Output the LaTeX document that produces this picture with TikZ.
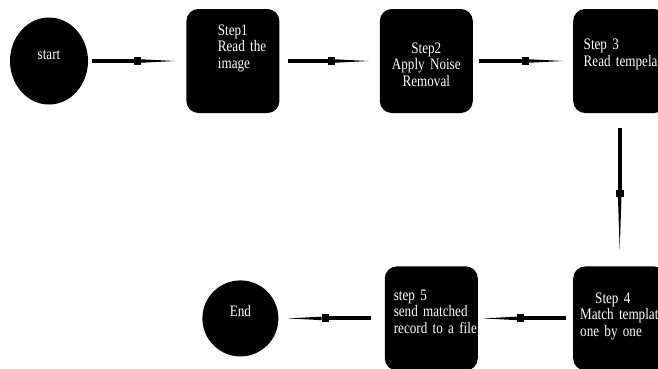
\documentclass[tikz,border=0pt]{standalone}
\usepackage{fontspec}
\setmainfont{Liberation Serif}
\newfontfamily\boxfont[FakeStretch=0.82]{Liberation Serif}
\usetikzlibrary{arrows.meta,positioning,calc,shapes.geometric}
\tikzset{
  terminal/.style={ellipse,fill=black,text=white,inner sep=0pt,
    font=\boxfont\fontsize{16pt}{16.5pt}\selectfont,text height=8pt,text depth=12pt},
  stepbox/.style={fill=black,rounded corners=12pt,minimum width=93pt,
    minimum height=104pt,inner sep=0pt},
  steptext/.style={text=white,inner sep=0pt,align=left,text width=90pt,
    font=\boxfont\fontsize{16pt}{16.5pt}\selectfont},
  link/.style={line width=4pt,
    -{Rectangle[length=7pt,width=8pt,line width=0pt]Triangle[length=#1,width=3.5pt,line width=0pt]}},
  link/.default=34pt
}

\begin{document}
\begin{tikzpicture}[x=1pt,y=-1pt]
  \useasboundingbox (0,0) rectangle (658,368);
  % top row
  \node[terminal,minimum width=78pt,minimum height=87pt] (start) at (49,61) {start};
  \node[stepbox,right=98pt of start] (s1) {};
  \node[stepbox,right=100pt of s1] (s2) {};
  \node[stepbox,right=100pt of s2] (s3) {};
  % bottom row, right to left
  \node[stepbox,below=153pt of s3] (s4) {};
  \node[stepbox,left=95pt of s4] (s5) {};
  \node[terminal,minimum width=76pt,minimum height=76pt,left=106pt of s5] (end) {End};
  % box texts
  \node[steptext,anchor=base west] (s1text) at ($(s1.north west)+(31.5,26.3)$)
    {Step1\\Read the\\image};
  \node[steptext,align=center,anchor=base] (s2text) at ($(s2.north)+(0,44.3)$)
    {Step2\\Apply Noise\\Removal};
  \node[steptext,anchor=base west] (s3text) at ($(s3.north west)+(10.5,41)$)
    {Step 3\\Read tempelat};
  \node[steptext,anchor=base west] (s4text) at ($(s4.north west)+(7,37)$)
    {\hspace*{15pt}Step 4\\Match template\\one by one};
  \node[steptext,anchor=base west] (s5text) at ($(s5.north west)+(9,34)$)
    {step 5\\send matched\\record to a file};
  % connectors
  \draw[link,shorten <=4pt,shorten >=11pt] (start) -- (s1);
  \draw[link,shorten <=8pt,shorten >=11pt] (s1) -- (s2);
  \draw[link,shorten <=6pt,shorten >=10pt] (s2) -- (s3);
  \draw[link=53pt,shorten <=15pt,shorten >=16pt] (s3) -- (s4);
  \draw[link,shorten <=7pt,shorten >=5pt] (s4) -- (s5);
  \draw[link,shorten <=14pt,shorten >=9pt] (s5) -- (end);
\end{tikzpicture}
\end{document}
